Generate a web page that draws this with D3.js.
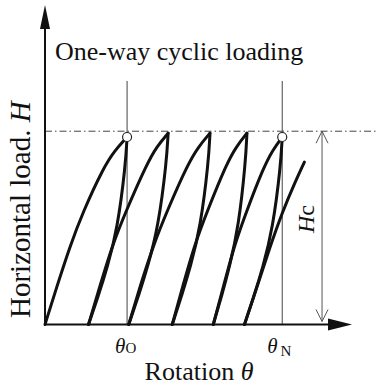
<!DOCTYPE html>
<html>
<head>
<meta charset="utf-8">
<script src="https://cdn.jsdelivr.net/npm/d3@7"></script>
<style>
  html, body { margin: 0; padding: 0; background: #fff; }
  svg { display: block; }
</style>
</head>
<body>
<svg id="chart" width="378" height="387"></svg>
<script>
// Rotation in units of theta_O, load in units of Hc
const thetaMax = 3.74;
const loadMax = 1.653;

// Reference rotations marked on the axis
const refTicks = [
  { name: "O", theta: 1.0 },
  { name: "N", theta: 2.89 }
];
const refLineTop = 1.26;
const hcLevel = 1.0;
const hcArrowTheta = 3.375;

// Loading branches (theta, H)
const load1 = [[0, 0], [0.14, 0.19], [0.30, 0.40], [0.46, 0.58], [0.71, 0.81], [0.85, 0.90], [1.0, 0.97]];
const load2 = [[0.53, 0], [0.67, 0.20], [0.82, 0.41], [0.99, 0.59], [1.24, 0.83], [1.36, 0.92], [1.50, 0.99]];
const load3 = [[1.02, 0], [1.16, 0.20], [1.32, 0.41], [1.49, 0.59], [1.74, 0.83], [1.87, 0.92], [2.01, 0.99]];
const load4 = [[1.55, 0], [1.68, 0.20], [1.82, 0.41], [1.98, 0.59], [2.21, 0.83], [2.33, 0.92], [2.46, 0.99]];
const load5 = [[2.05, 0], [2.17, 0.19], [2.30, 0.40], [2.45, 0.58], [2.66, 0.81], [2.77, 0.90], [2.89, 0.97]];
const load6 = [[2.43, 0], [2.58, 0.19], [2.74, 0.40], [2.89, 0.58], [3.05, 0.74], [3.16, 0.84]];

// Unloading branches (theta, H)
const unload1 = [[1.0, 0.97], [0.981, 0.825], [0.883, 0.495], [0.756, 0.291], [0.648, 0.146], [0.53, 0]];
const unload2 = [[1.50, 0.99], [1.481, 0.842], [1.380, 0.505], [1.250, 0.297], [1.140, 0.149], [1.02, 0]];
const unload3 = [[2.01, 0.99], [1.992, 0.842], [1.895, 0.505], [1.771, 0.297], [1.665, 0.149], [1.55, 0]];
const unload4 = [[2.46, 0.99], [2.444, 0.842], [2.358, 0.505], [2.247, 0.297], [2.153, 0.149], [2.05, 0]];
const unload5 = [[2.89, 0.97], [2.872, 0.825], [2.775, 0.495], [2.651, 0.291], [2.545, 0.146], [2.43, 0]];

const branches = [load1, unload1, load2, unload2, load3, unload3, load4, unload4, load5, unload5, load6];

// Peaks reaching theta_O and theta_N
const markedPeaks = [[1.0, 0.97], [2.89, 0.97]];

const serif = "'Liberation Serif', 'Times New Roman', Times, 'DejaVu Serif', serif";

const svg = d3.select("#chart")
  .attr("font-family", serif)
  .style("font-family", serif);

const x = d3.scaleLinear().domain([0, thetaMax]).range([45, 352]);
const y = d3.scaleLinear().domain([0, loadMax]).range([324.5, 5]);

// Reference verticals at theta_O and theta_N
svg.append("g").selectAll("line").data(refTicks).join("line")
  .attr("x1", d => x(d.theta)).attr("x2", d => x(d.theta))
  .attr("y1", y(refLineTop)).attr("y2", y(0))
  .attr("stroke", "#444").attr("stroke-width", 1);

// Hc level, dash-dot
svg.append("line")
  .attr("x1", x(0)).attr("x2", 377)
  .attr("y1", y(hcLevel)).attr("y2", y(hcLevel))
  .attr("stroke", "#444").attr("stroke-width", 1)
  .attr("stroke-dasharray", "7,3,1.5,3");

// Hysteresis loops
const line = d3.line()
  .x(d => x(d[0])).y(d => y(d[1]))
  .curve(d3.curveBasis);

svg.append("g").selectAll("path").data(branches).join("path")
  .attr("d", line)
  .attr("fill", "none")
  .attr("stroke", "#111")
  .attr("stroke-width", 3)
  .attr("stroke-linecap", "round")
  .attr("stroke-linejoin", "round");

svg.append("g").selectAll("circle").data(markedPeaks).join("circle")
  .attr("cx", d => x(d[0])).attr("cy", d => y(d[1]))
  .attr("r", 4.5)
  .attr("fill", "#fff").attr("stroke", "#222").attr("stroke-width", 1.2);

// Axes with filled arrowheads
const axisColor = "#111";
svg.append("line")
  .attr("x1", x(0)).attr("x2", x(0))
  .attr("y1", y(0) + 1).attr("y2", y(loadMax) + 20)
  .attr("stroke", axisColor).attr("stroke-width", 2);
svg.append("path")
  .attr("d", `M${x(0)},${y(loadMax)} L${x(0) - 5},${y(loadMax) + 24} L${x(0) + 5},${y(loadMax) + 24} Z`)
  .attr("fill", axisColor);

svg.append("line")
  .attr("x1", x(0) - 1).attr("x2", x(thetaMax) - 20)
  .attr("y1", y(0)).attr("y2", y(0))
  .attr("stroke", axisColor).attr("stroke-width", 2);
svg.append("path")
  .attr("d", `M${x(thetaMax)},${y(0)} L${x(thetaMax) - 24},${y(0) - 6} L${x(thetaMax) - 24},${y(0) + 6} Z`)
  .attr("fill", axisColor);

// Hc dimension arrow
const hx = x(hcArrowTheta);
const hcTop = y(hcLevel), hcBot = y(0) - 3;
svg.append("line")
  .attr("x1", hx).attr("x2", hx).attr("y1", hcTop).attr("y2", hcBot)
  .attr("stroke", "#555").attr("stroke-width", 1);
svg.append("path")
  .attr("d", `M${hx - 6},${hcTop + 12} L${hx},${hcTop} L${hx + 6},${hcTop + 12}`
    + ` M${hx - 6},${hcBot - 12} L${hx},${hcBot} L${hx + 6},${hcBot - 12}`)
  .attr("fill", "none").attr("stroke", "#555").attr("stroke-width", 1);

const txt = (sel) => sel.attr("fill", "#111").style("font-family", serif);

svg.append("text").call(txt)
  .attr("transform", `translate(${hx - 8},219) rotate(-90)`)
  .attr("text-anchor", "middle")
  .attr("font-size", 24)
  .call(t => {
    t.append("tspan").attr("font-style", "italic").text("H");
    t.append("tspan").text("c");
  });

// Title
svg.append("text").call(txt)
  .attr("x", 55).attr("y", 60)
  .attr("font-size", 26)
  .text("One-way cyclic loading");

// Reference rotation labels
const tickLabels = svg.append("g");
tickLabels.append("text").call(txt)
  .attr("x", x(refTicks[0].theta) - 12).attr("y", 353)
  .attr("font-size", 21)
  .call(t => {
    t.append("tspan").attr("font-style", "italic").text("θ");
    t.append("tspan").attr("font-size", 15).text(refTicks[0].name);
  });
tickLabels.append("text").call(txt)
  .attr("x", x(refTicks[1].theta) - 15).attr("y", 353)
  .attr("font-size", 21)
  .call(t => {
    t.append("tspan").attr("font-style", "italic").text("θ");
    t.append("tspan").attr("font-size", 15).attr("dx", 3).attr("dy", 3).text(refTicks[1].name);
  });

// Axis titles
svg.append("text").call(txt)
  .attr("x", 199).attr("y", 380)
  .attr("text-anchor", "middle")
  .attr("font-size", 26)
  .call(t => {
    t.append("tspan").text("Rotation ");
    t.append("tspan").attr("font-style", "italic").text("θ");
  });

svg.append("text").call(txt)
  .attr("transform", "translate(30,318) rotate(-90)")
  .attr("font-size", 29)
  .call(t => {
    t.append("tspan").text("Horizontal load. ");
    t.append("tspan").attr("font-style", "italic").text("H");
  });
</script>
</body>
</html>
